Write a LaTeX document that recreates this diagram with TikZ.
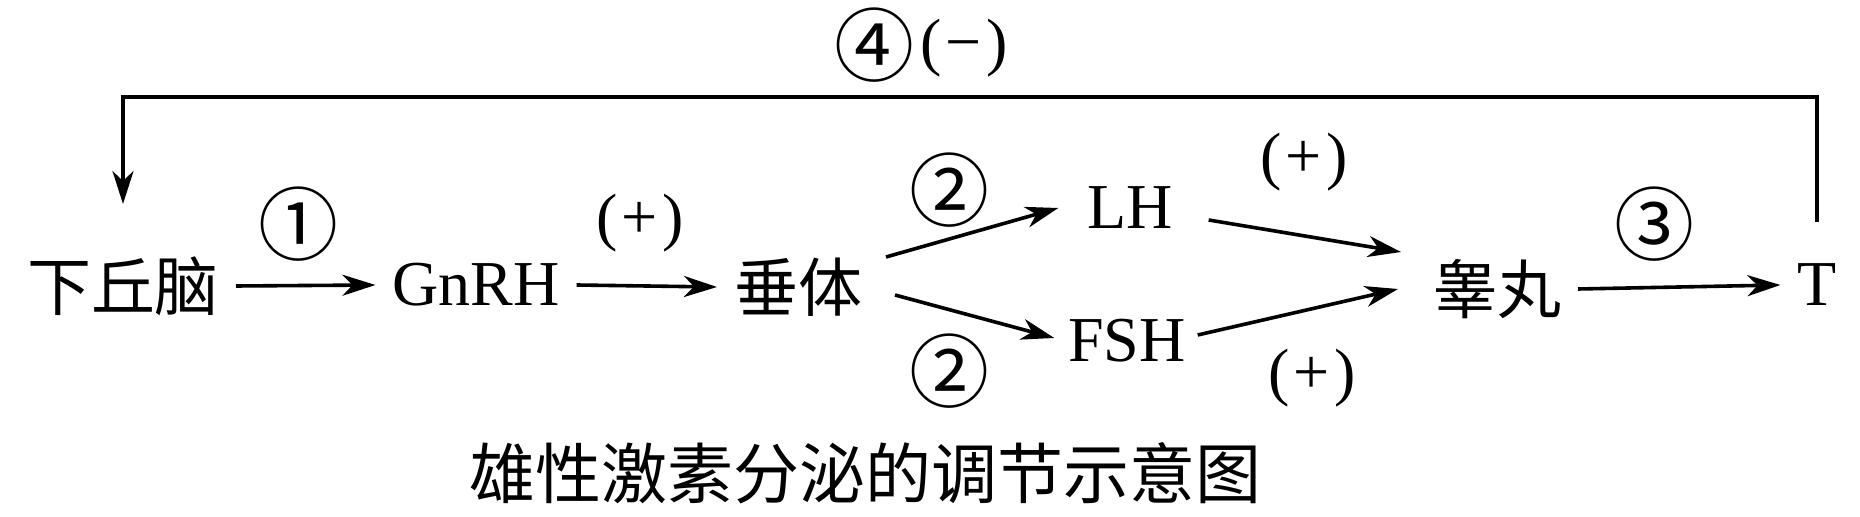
\documentclass[tikz,border=0pt]{standalone}
\usepackage{fontspec}
\setmainfont{Liberation Serif}
\newfontfamily\cjk{Noto Sans CJK SC}
\usetikzlibrary{arrows.meta}

\newcommand{\circnum}[1]{{\cjk\fontsize{40}{46}\selectfont #1}}

\tikzset{
    lbl/.style={inner sep=0pt, outer xsep=8.5pt, font=\fontsize{32}{38}\selectfont},
    zh/.style={lbl, font=\cjk\fontsize{32}{38}\selectfont},
    arr/.style={line width=1.8pt, -{Stealth[length=16.5pt,width=10.5pt,inset=5pt]}},
}

\begin{document}
\begin{tikzpicture}[x=0.5pt,y=-0.5pt]
        \useasboundingbox (0,0) rectangle (1860,517);

        %main chain
        \node[zh] (hypo) at (123,286) {下丘脑};
        \node[lbl] (gnrh) at (476,285) {GnRH};
        \node[zh] (cui) at (798,287) {垂体};
        \node[lbl] (lh) at (1130,208) {LH};
        \node[lbl] (fsh) at (1127,341) {FSH};
        \node[zh] (gao) at (1497,289) {睾丸};
        \node[lbl] (t) at (1817,285) {T};

        %labels of arrows
        \node[lbl] (n1) at (298,224) {\circnum{①}};
        \node[lbl] (p1) at (640,223) {(\kern2pt+\kern2pt)};
        \node[lbl] (n2a) at (949,190) {\circnum{②}};
        \node[lbl] (n2b) at (949,371) {\circnum{②}};
        \node[lbl] (p2) at (1304,162) {(\kern2pt+\kern2pt)};
        \node[lbl] (p3) at (1312,378) {(\kern2pt+\kern2pt)};
        \node[lbl] (n3) at (1654,224) {\circnum{③}};
        \node[lbl] (fb) at (921,45) {\circnum{④}\kern3pt\raisebox{6pt}{(\kern2pt−\kern2pt)}};

        %caption
        \node[zh, font=\cjk\fontsize{33}{40}\selectfont] (cap) at (865,473) {雄性激素分泌的调节示意图};

        %arrows
        \draw[arr] (hypo.east) -- (gnrh.west);
        \draw[arr] (gnrh.east) -- (cui.west);
        \draw[arr] ([xshift=3.5pt,yshift=15pt]cui.east) -- ([xshift=-6pt]lh.west);
        \draw[arr] ([xshift=8pt,yshift=-4pt]cui.east) -- ([xshift=1.5pt,yshift=1.5pt]fsh.west);
        \draw[arr] ([xshift=9.5pt,yshift=-6pt]lh.east) -- ([xshift=-7.5pt,yshift=18.5pt]gao.west);
        \draw[arr] ([xshift=-2.5pt,yshift=3pt]fsh.east) -- ([xshift=-9pt]gao.west);
        \draw[arr] (gao.east) -- (t.west);

        %feedback
        \coordinate (top) at (0,97);
        \draw[arr, shorten <=21pt, shorten >=26pt] (t.north) -- (t.north |- top) -| (hypo.north);
\end{tikzpicture}
\end{document}
